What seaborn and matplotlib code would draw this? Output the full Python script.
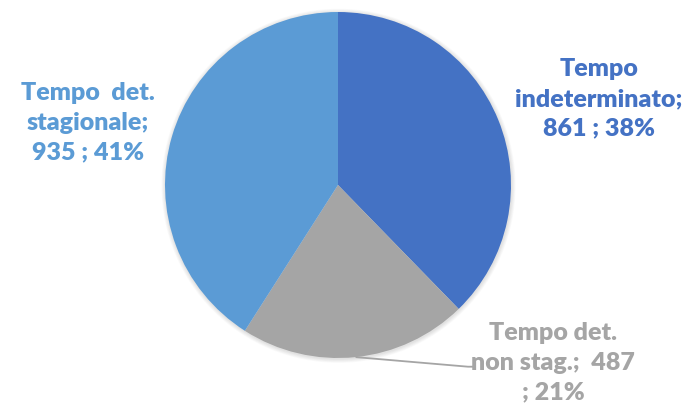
import numpy as np
import matplotlib
matplotlib.use("Agg")
import matplotlib.pyplot as plt
import seaborn as sns

# Contract types and headcounts
categories = ["Tempo indeterminato", "Tempo det. non stag.", "Tempo det. stagionale"]
values = [861, 487, 935]
label_names = ["Tempo\nindeterminato;", "Tempo det.\nnon stag.;  ", "Tempo  det.\nstagionale;"]
colors = ["#4472C4", "#A5A5A5", "#5B9BD5"]

sns.set_theme(style="white")
plt.rcParams["font.family"] = ["Lato", "DejaVu Sans"]

W, H = 685, 406
fig = plt.figure(figsize=(W / 100, H / 100), dpi=100)
ax = fig.add_axes([0, 0, 1, 1])

cx, cy, r = 338, H - 186, 173

# soft shadow around the pie
for k in range(6):
    ax.add_patch(plt.Circle((cx + 0.5, cy - 0.8), r + 0.6 + k * 0.7,
                            color="black", alpha=0.018, lw=0, zorder=0))

wedges, _ = ax.pie(values, colors=colors, startangle=90, counterclock=False,
                   center=(cx, cy), radius=r,
                   wedgeprops=dict(linewidth=0, zorder=2))

total = sum(values)
pct = [round(v / total * 100) for v in values]
texts = [
    f"{label_names[0]}\n{values[0]} ; {pct[0]}%",
    f"{label_names[1]}{values[1]}\n; {pct[1]}%",
    f"{label_names[2]}\n{values[2]} ; {pct[2]}%",
]
label_pos = [(599, H - 99), (553, H - 363), (88, H - 123)]
for t, (x, y), c in zip(texts, label_pos, colors):
    ax.text(x, y, t, ha="center", va="center", color=c, fontsize=18,
            fontweight="heavy", linespacing=1.43, zorder=3)

# leader line for the grey slice
w = wedges[1]
mid = np.deg2rad((w.theta1 + w.theta2) / 2)
x0, y0 = cx + r * np.cos(mid), cy + r * np.sin(mid)
ax.plot([x0, 468, 476], [y0, H - 367.7, H - 367.7], color="#A5A5A5",
        lw=1.3, solid_capstyle="butt", zorder=1)

ax.set_xlim(0, W)
ax.set_ylim(0, H)
ax.set_aspect("auto")
ax.axis("off")
fig.savefig("out.png", dpi=100, facecolor="white")
